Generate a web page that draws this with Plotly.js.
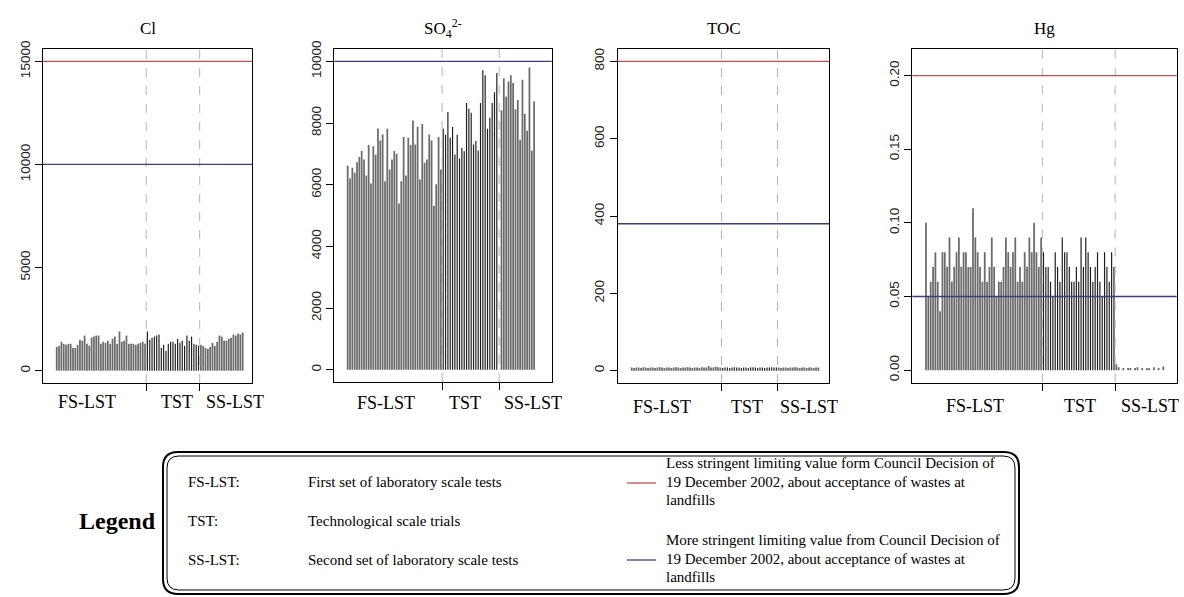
<!DOCTYPE html>
<html>
<head>
<meta charset="utf-8">
<script src="https://cdn.plot.ly/plotly-3.0.1.min.js"></script>
<style>
  html, body { margin: 0; padding: 0; background: #ffffff; }
  #chart { width: 1184px; height: 597px; }
</style>
</head>
<body>
<div id="chart"></div>
<script>
// Leachate concentrations per sample, split into the three test series
const groupNames = ['FS-LST', 'TST', 'SS-LST'];

const clFS = [1150, 1200, 1400, 1300, 1250, 1300, 1300, 1100, 1100, 1250, 1500, 1450, 1700, 1300, 1200, 1600, 1650, 1700, 1700, 1300,
              1400, 1350, 1450, 1300, 1550, 1650, 1300, 1900, 1400, 1450, 1700, 1300, 1300, 1300, 1250, 1300, 1350, 1400, 1300];
const clTST = [1900, 1500, 1600, 1650, 1700, 1750, 1100, 1250, 950, 1300, 1400, 1400, 1300, 1550, 1350, 1450, 1200, 1700, 1450, 1650,
               1300, 1250, 1200];
const clSS = [1250, 1200, 1100, 1050, 1150, 1350, 1200, 1400, 1700, 1650, 1450, 1450, 1550, 1600, 1750, 1700, 1800, 1750, 1850];

const so4FS = [6620, 6200, 6550, 6390, 6730, 6900, 7100, 6820, 6300, 7290, 6040, 7250, 6970, 7820, 7430, 7630, 6110, 7810, 6490, 6820,
               7090, 7000, 5390, 6110, 7550, 6300, 7520, 7290, 8080, 7300, 7880, 6170, 7970, 6710, 6820, 7630, 7430, 5310, 6010, 7550,
               6490];
const so4TST = [7810, 7620, 8360, 7520, 7870, 6980, 7620, 6850, 7190, 7080, 8650, 8460, 8330, 7300, 7420, 7110, 8650, 9710, 9550, 7810,
                8170, 8650, 9000, 9620];
const so4SS = [8410, 9450, 8850, 9350, 9550, 9300, 8450, 8750, 7450, 9400, 8300, 7750, 9800, 7100, 8700];

const tocFS = [8, 7, 8, 8, 7, 9, 8, 7, 8, 8, 7, 8, 9, 8, 7, 8, 8, 7, 8, 9, 8, 7, 8, 8, 9, 8, 7, 8, 8, 7, 9, 8, 8, 12, 8, 8, 10, 9, 8];
const tocTST = [7, 8, 8, 7, 8, 9, 8, 8, 7, 8, 8, 7, 8, 9, 8, 7, 8, 8, 7, 8, 8, 9, 8, 8];
const tocSS = [8, 7, 8, 8, 7, 8, 8, 9, 8, 7, 8, 8, 7, 8, 8, 7, 8, 8];

const hgFS = [0.10, 0.05, 0.06, 0.07, 0.08, 0.06, 0.04, 0.08, 0.08, 0.07, 0.09, 0.06, 0.07, 0.08, 0.09, 0.07, 0.08, 0.08, 0.07, 0.07,
              0.11, 0.09, 0.08, 0.07, 0.06, 0.08, 0.06, 0.07, 0.09, 0.07, 0.05, 0.06, 0.06, 0.07, 0.09, 0.08, 0.07, 0.08, 0.09, 0.06,
              0.07, 0.06, 0.08, 0.07, 0.09, 0.08, 0.10, 0.08, 0.07, 0.09];
const hgTST = [0.08, 0.07, 0.07, 0.06, 0.05, 0.08, 0.07, 0.06, 0.09, 0.08, 0.08, 0.07, 0.06, 0.06, 0.07, 0.06, 0.09, 0.07, 0.09, 0.08,
               0.07, 0.06, 0.07, 0.08, 0.06, 0.05, 0.08, 0.07, 0.06, 0.08, 0.07];
const hgSS = [0.004, 0.002, 0, 0.0015, 0, 0.0015, 0.0015, 0, 0.0015, 0.002, 0, 0.0015, 0, 0.0015, 0.0015, 0, 0.002, 0, 0.0015, 0, 0.0025];

// Limit values from the Council Decision of 19 December 2002 (null = off the scale)
const lessStringent = [15000, null, 800, 0.2];
const moreStringent = [10000, 10000, 380, 0.05];

const yTicksCl = [0, 5000, 10000, 15000];
const yTicksSO4 = [0, 2000, 4000, 6000, 8000, 10000];
const yTicksTOC = [0, 200, 400, 600, 800];
const yTicksHg = [0, 0.05, 0.10, 0.15, 0.20];

// ---- page geometry helpers (pixel -> paper fraction) ----
const W = 1184, H = 597;
const px = v => v / W;
const py = v => 1 - v / H;

const SERIF = '"Liberation Serif", "Times New Roman", serif';
const SANS = '"Liberation Sans", Arial, sans-serif';
const GREY_BAR = '#6a6a6a';
const DARK_BAR = '#1c1c1c';
const RED = '#c0504d';
const BLUE = '#3c3c7e';

const panels = [
  { title: 'Cl', series: [clFS, clTST, clSS], starts: [1, 40, 63], dividers: [39.5, 62.5],
    labelAt: [14.0, 52.7, 77.7], labelY: 402, xRange: [-4.9, 85.0], yRange: [-600, 15600],
    yTicks: yTicksCl, fmt: 'd', box: [43, 252, 49, 383] },
  { title: 'SO<sub>4</sub><sup>2-</sup>', series: [so4FS, so4TST, so4SS], starts: [1, 42, 67], dividers: [41.5, 66],
    labelAt: [17.3, 51.3, 80.7], labelY: 403, xRange: [-4.75, 88.55], yRange: [-400, 10400],
    yTicks: yTicksSO4, fmt: 'd', box: [334.3, 551.7, 49, 382] },
  { title: 'TOC', series: [tocFS, tocTST, tocSS], starts: [1, 40, 64], dividers: [39.5, 63.5],
    labelAt: [14.2, 50.4, 76.8], labelY: 407, xRange: [-5.0, 85.7], yRange: [-32, 832],
    yTicks: yTicksTOC, fmt: 'd', box: [617.7, 829.3, 49, 383] },
  { title: 'Hg', series: [hgFS, hgTST, hgSS], starts: [1, 51, 82], dividers: [50.5, 81.5],
    labelAt: [21.9, 66.5, 96.3], labelY: 406, xRange: [-4.83, 107.7], yRange: [-0.0084, 0.2184],
    yTicks: yTicksHg, fmt: '.2f', box: [912.3, 1176.7, 48.5, 382.5] }
];

const traces = [];
const shapes = [];
const annotations = [];
const layout = {
  width: W, height: H,
  margin: { l: 0, r: 0, t: 0, b: 0 },
  paper_bgcolor: '#ffffff', plot_bgcolor: '#ffffff',
  showlegend: false, barmode: 'overlay',
  shapes: shapes, annotations: annotations
};

panels.forEach((p, k) => {
  const sfx = k === 0 ? '' : String(k + 1);
  const xa = 'x' + sfx, ya = 'y' + sfx;

  // one vertical bar per sample, TST samples drawn darker and thinner
  p.series.forEach((vals, g) => {
    traces.push({
      type: 'bar', xaxis: xa, yaxis: ya,
      x: vals.map((_, i) => p.starts[g] + i), y: vals,
      width: g === 1 ? 0.5 : 0.75,
      marker: { color: g === 1 ? DARK_BAR : GREY_BAR, line: { width: 0 } },
      hoverinfo: 'skip', name: groupNames[g]
    });
  });

  const [l, r, t, b] = p.box;
  layout['xaxis' + sfx] = {
    domain: [px(l), px(r)], anchor: ya, range: p.xRange,
    showgrid: false, zeroline: false, showline: true, mirror: true,
    linecolor: '#000', linewidth: 1,
    tickmode: 'array', tickvals: p.dividers, ticks: 'outside', ticklen: 7,
    tickcolor: '#000', tickwidth: 1, showticklabels: false
  };
  layout['yaxis' + sfx] = {
    domain: [py(b), py(t)], anchor: xa, range: p.yRange,
    showgrid: false, zeroline: false, showline: true, mirror: true,
    linecolor: '#000', linewidth: 1,
    tickmode: 'array', tickvals: p.yTicks, tickformat: p.fmt,
    ticks: 'outside', ticklen: 7, tickcolor: '#000', tickwidth: 1,
    tickangle: -90, tickfont: { family: SANS, size: 13.5, color: '#222' }
  };

  // dashed separators between test series
  p.dividers.forEach(d => shapes.push({
    type: 'line', xref: xa, yref: ya + ' domain', x0: d, x1: d, y0: 0, y1: 1,
    line: { color: '#b4b4b4', width: 1, dash: 'dash' }
  }));

  // limit values
  [[lessStringent[k], RED], [moreStringent[k], BLUE]].forEach(([v, c]) => {
    if (v === null) return;
    shapes.push({
      type: 'line', xref: xa + ' domain', yref: ya, x0: 0, x1: 1, y0: v, y1: v,
      line: { color: c, width: 1.3 }
    });
  });

  annotations.push({
    text: p.title, xref: 'paper', yref: 'paper', x: px((l + r) / 2), y: py(28),
    xanchor: 'center', yanchor: 'middle', showarrow: false,
    font: { family: SERIF, size: 17, color: '#000' }
  });
  groupNames.forEach((name, g) => annotations.push({
    text: name, xref: xa, yref: 'paper', x: p.labelAt[g], y: py(p.labelY),
    xanchor: 'center', yanchor: 'middle', showarrow: false,
    font: { family: SERIF, size: 18, color: '#000' }
  }));
});

// ---- legend panel ----
function roundRect(x0, y0, x1, y1, r) {
  const P = (x, y) => px(x).toFixed(5) + ',' + py(y).toFixed(5);
  return 'M' + P(x0 + r, y0) + ' L' + P(x1 - r, y0) + ' Q' + P(x1, y0) + ' ' + P(x1, y0 + r) +
         ' L' + P(x1, y1 - r) + ' Q' + P(x1, y1) + ' ' + P(x1 - r, y1) +
         ' L' + P(x0 + r, y1) + ' Q' + P(x0, y1) + ' ' + P(x0, y1 - r) +
         ' L' + P(x0, y0 + r) + ' Q' + P(x0, y0) + ' ' + P(x0 + r, y0) + ' Z';
}
shapes.push({ type: 'path', xref: 'paper', yref: 'paper', path: roundRect(163, 452, 1019, 594, 15),
              line: { color: '#000', width: 2 } });
shapes.push({ type: 'path', xref: 'paper', yref: 'paper', path: roundRect(167, 456, 1015, 590, 12),
              line: { color: '#000', width: 1 } });

const legendFont = { family: SERIF, size: 15, color: '#000' };
annotations.push({ text: '<b>Legend</b>', xref: 'paper', yref: 'paper', x: px(117), y: py(521),
  xanchor: 'center', yanchor: 'middle', showarrow: false, font: { family: SERIF, size: 24, color: '#000' } });

const abbrevs = ['FS-LST:', 'TST:', 'SS-LST:'];
const meanings = ['First set of laboratory scale tests', 'Technological scale trials', 'Second set of laboratory scale tests'];
const rowY = [482, 521, 560];
abbrevs.forEach((a, i) => {
  annotations.push({ text: a, xref: 'paper', yref: 'paper', x: px(186), y: py(rowY[i]),
    xanchor: 'left', yanchor: 'middle', showarrow: false, font: legendFont });
  annotations.push({ text: meanings[i], xref: 'paper', yref: 'paper', x: px(306), y: py(rowY[i]),
    xanchor: 'left', yanchor: 'middle', showarrow: false, font: legendFont });
});

const limitText = [
  ['Less stringent limiting value form Council Decision of', '19 December 2002, about acceptance of wastes at', 'landfills'],
  ['More stringent limiting value from Council Decision of', '19 December 2002, about acceptance of wastes at', 'landfills']
];
const limitColors = [RED, BLUE];
const limitTop = [463, 540];
limitText.forEach((lines, j) => {
  shapes.push({ type: 'line', xref: 'paper', yref: 'paper', x0: px(627), x1: px(656),
    y0: py(limitTop[j] + 20), y1: py(limitTop[j] + 20), line: { color: limitColors[j], width: 1.3 } });
  lines.forEach((ln, i) => annotations.push({ text: ln, xref: 'paper', yref: 'paper', x: px(664),
    y: py(limitTop[j] + i * 18.5), xanchor: 'left', yanchor: 'middle', showarrow: false, font: legendFont }));
});

Plotly.newPlot('chart', traces, layout, { staticPlot: true, displayModeBar: false });
</script>
</body>
</html>
